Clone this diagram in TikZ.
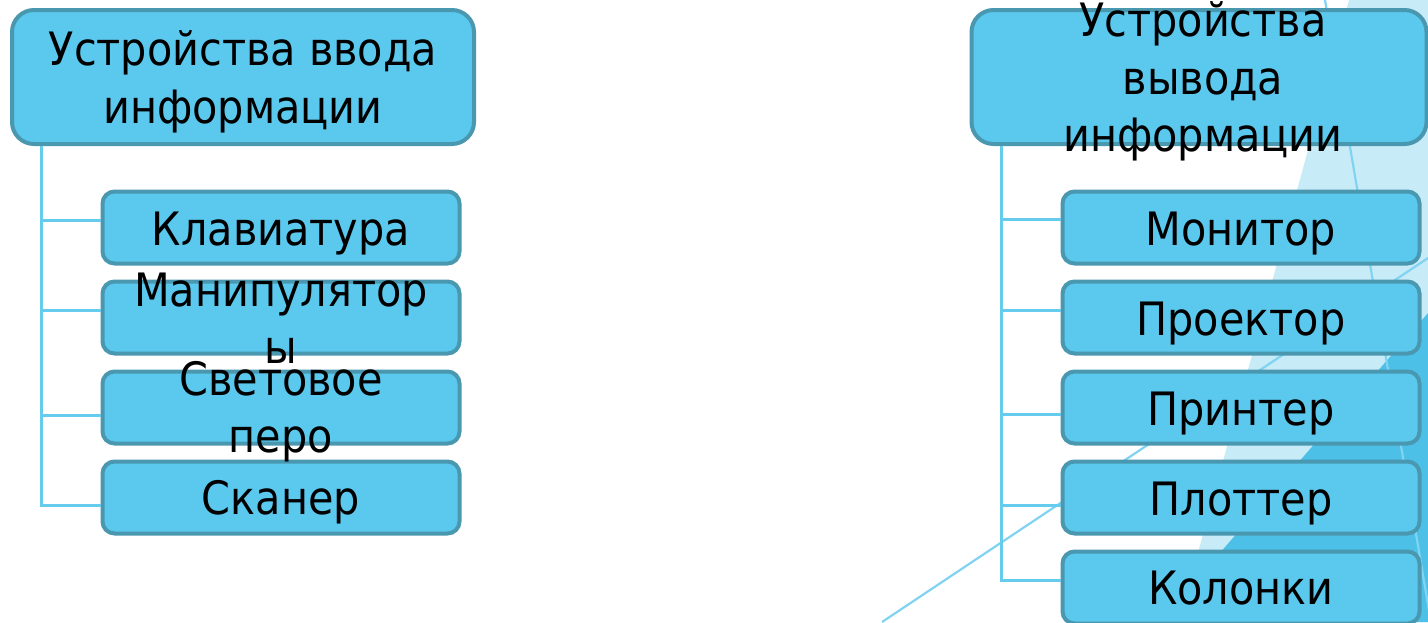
\documentclass[tikz,border=0pt]{standalone}
\usepackage{fontspec}
\setmainfont{DejaVu Sans Condensed}
\definecolor{boxfill}{HTML}{5BC9EE}
\definecolor{boxborder}{HTML}{4A97B0}
\definecolor{connc}{HTML}{66CCEE}
\definecolor{bglight}{HTML}{C8EBF8}
\definecolor{bgdark}{HTML}{4DC0E8}
\definecolor{thinc}{HTML}{80D4F2}
\begin{document}
\begin{tikzpicture}[x=1pt,y=-1pt,
  topbox/.style={draw=boxborder,fill=boxfill,line width=4pt,rounded corners=22pt,inner sep=0pt,minimum height=134pt},
  childbox/.style={draw=boxborder,fill=boxfill,line width=4pt,rounded corners=12pt,inner sep=0pt,minimum width=357pt,minimum height=72pt},
  conn/.style={draw=connc,line width=3pt},
  thinline/.style={draw=thinc,line width=2.2pt},
  lbl/.style={anchor=base,inner sep=0pt,font=\fontsize{46}{57}\selectfont,text=black}]
\useasboundingbox (0,0) rectangle (1428,622);
\clip (0,0) rectangle (1428,622);
% background facets
\fill[bglight] (1179,622) -- (1349,0) -- (1428,0) -- (1428,622) -- cycle;
\fill[bgdark] (1160,622) -- (1428,313) -- (1428,622) -- cycle;
\draw[thinline] (882,622) -- (1428,258);
\draw[thinline] (1325,0) -- (1431,622);
% connector spines
\coordinate (ls) at (41,145.5);
\coordinate (rs) at (1001,145.5);
% left group boxes
\node[topbox,minimum width=462pt] (ltop) at (243,77) {};
\node[childbox] (k1) at (281,227.5) {};
\node[childbox] (k2) at (281,317.5) {};
\node[childbox] (k3) at (281,407.5) {};
\node[childbox] (k4) at (281,497.5) {};
% right group boxes
\node[topbox,minimum width=455pt] (rtop) at (1199,77) {};
\node[childbox] (m1) at (1241,227.5) {};
\node[childbox] (m2) at (1241,317.5) {};
\node[childbox] (m3) at (1241,407.5) {};
\node[childbox] (m4) at (1241,497.5) {};
\node[childbox] (m5) at (1241,587.5) {};
\draw[conn] (ls) |- ([yshift=7.5pt]k1.west);
\draw[conn] (ls) |- ([yshift=7.5pt]k2.west);
\draw[conn] (ls) |- ([yshift=-7.5pt]k3.west);
\draw[conn] (ls) |- ([yshift=-7.5pt]k4.west);
\draw[conn] (rs) |- ([yshift=8.5pt]m1.west);
\draw[conn] (rs) |- ([yshift=7.5pt]m2.west);
\draw[conn] (rs) |- ([yshift=-6.5pt]m3.west);
\draw[conn] (rs) |- ([yshift=-7.5pt]m4.west);
\draw[conn] (rs) |- ([yshift=7.5pt]m5.west);
% labels
\node[lbl] (t1a) at (243,65) {Устройства ввода};
\node[lbl] (t1b) at (243,123) {информации};
\node[lbl] (tk1) at (281,245) {Клавиатура};
\node[lbl] (tk2a) at (281,306) {Манипулятор};
\node[lbl] (tk2b) at (281,363) {ы};
\node[lbl] (tk3a) at (281,395) {Световое};
\node[lbl] (tk3b) at (281,452) {перо};
\node[lbl] (tk4) at (281,514) {Сканер};
\node[lbl] (t2a) at (1203,36) {Устройства};
\node[lbl] (t2b) at (1203,94) {вывода};
\node[lbl] (t2c) at (1203,151) {информации};
\node[lbl] (tm1) at (1241,245) {Монитор};
\node[lbl] (tm2) at (1241,335) {Проектор};
\node[lbl] (tm3) at (1241,425) {Принтер};
\node[lbl] (tm4) at (1241,515) {Плоттер};
\node[lbl] (tm5) at (1241,604) {Колонки};
\end{tikzpicture}
\end{document}
